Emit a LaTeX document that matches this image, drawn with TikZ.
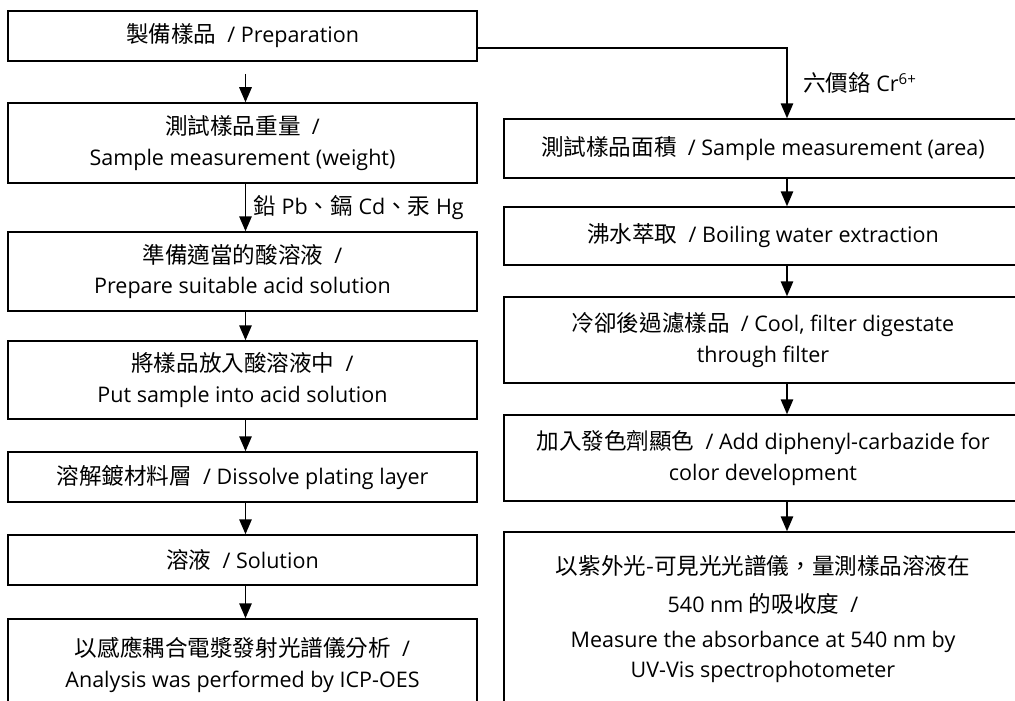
\documentclass[tikz,border=0pt]{standalone}
\usepackage{fontspec}
\setmainfont{Open Sans}
\newfontfamily\cjk[Scale=1.05]{Noto Sans CJK TC}
\usetikzlibrary{arrows.meta}
\tikzset{
	box/.style={draw, line width=1.5pt, align=center, inner sep=0pt},
	leftbox/.style={box, minimum width=469pt},
	rightbox/.style={box, minimum width=518pt},
	link/.style={-{Triangle[length=15pt,width=12.5pt]}, line width=1.5pt}
}

\begin{document}
\begin{tikzpicture}[x=1pt, y=1pt, font=\fontsize{21.5}{30.5}\selectfont]
\clip (0,0) rectangle (1015,-701);
% left column
\node[leftbox, minimum height=50pt] (prep) at (242.5,-36) {{\cjk 製備樣品}~ / Preparation};
\node[leftbox, minimum height=80pt] (weigh) at (242.5,-143) {{\cjk 測試樣品重量}~ /\\ Sample measurement (weight)};
\node[leftbox, minimum height=79pt] (acid) at (242.5,-271.5) {{\cjk 準備適當的酸溶液}~ /\\ Prepare suitable acid solution};
\node[leftbox, minimum height=78pt] (put) at (242.5,-380) {{\cjk 將樣品放入酸溶液中}~ /\\ Put sample into acid solution};
\node[leftbox, minimum height=50pt] (plating) at (242.5,-477) {{\cjk 溶解鍍材料層}~ / Dissolve plating layer};
\node[leftbox, minimum height=50pt] (solution) at (242.5,-560) {{\cjk 溶液}~ / Solution};
\node[leftbox, minimum height=92pt] (icp) at (242.5,-665) {{\cjk 以感應耦合電漿發射光譜儀分析}~ /\\ Analysis was performed by ICP-OES};
% right column
\node[rightbox, minimum height=59pt] (area) at (763,-148.5) {{\cjk 測試樣品面積}~ / Sample measurement (area)};
\node[rightbox, minimum height=58pt] (boil) at (763,-236) {{\cjk 沸水萃取}~ / Boiling water extraction};
\node[rightbox, minimum height=86pt] (filter) at (763,-340) {{\cjk 冷卻後過濾樣品}~ / Cool, filter digestate\\ through filter};
\node[rightbox, minimum height=86pt] (color) at (763,-458) {{\cjk 加入發色劑顯色}~ / Add diphenyl-carbazide for\\ color development};
\node[rightbox, minimum height=174pt] (uvvis) at (763,-619) {{\cjk 以紫外光-可見光光譜儀，量測樣品溶液在}\\[8pt] 540 nm {\cjk 的吸收度}~ /\\[4pt] Measure the absorbance at 540 nm by\\ UV-Vis spectrophotometer};

\coordinate (lx) at (245.5,0);
\coordinate (rx) at (787,-48);
\coordinate (start) at (245.5,-74);

\draw[link] (start) to (weigh.north -| start);
\draw[link] (weigh.south -| lx) to node[right=4pt] {{\cjk 鉛} Pb{\cjk 、鎘} Cd{\cjk 、汞} Hg} (acid.north -| lx);
\draw[link] (acid.south -| lx) to (put.north -| lx);
\draw[link] (put.south -| lx) to (plating.north -| lx);
\draw[link] (plating.south -| lx) to (solution.north -| lx);
\draw[link] (solution.south -| lx) to (icp.north -| lx);

\draw[link] (prep.east |- rx) -- (rx) -- (area.north -| rx) node[midway, right=12pt] {{\cjk 六價鉻} Cr\textsuperscript{6+}};
\draw[link] (area.south -| rx) to (boil.north -| rx);
\draw[link] (boil.south -| rx) to (filter.north -| rx);
\draw[link] (filter.south -| rx) to (color.north -| rx);
\draw[link] (color.south -| rx) to (uvvis.north -| rx);
\end{tikzpicture}
\end{document}
